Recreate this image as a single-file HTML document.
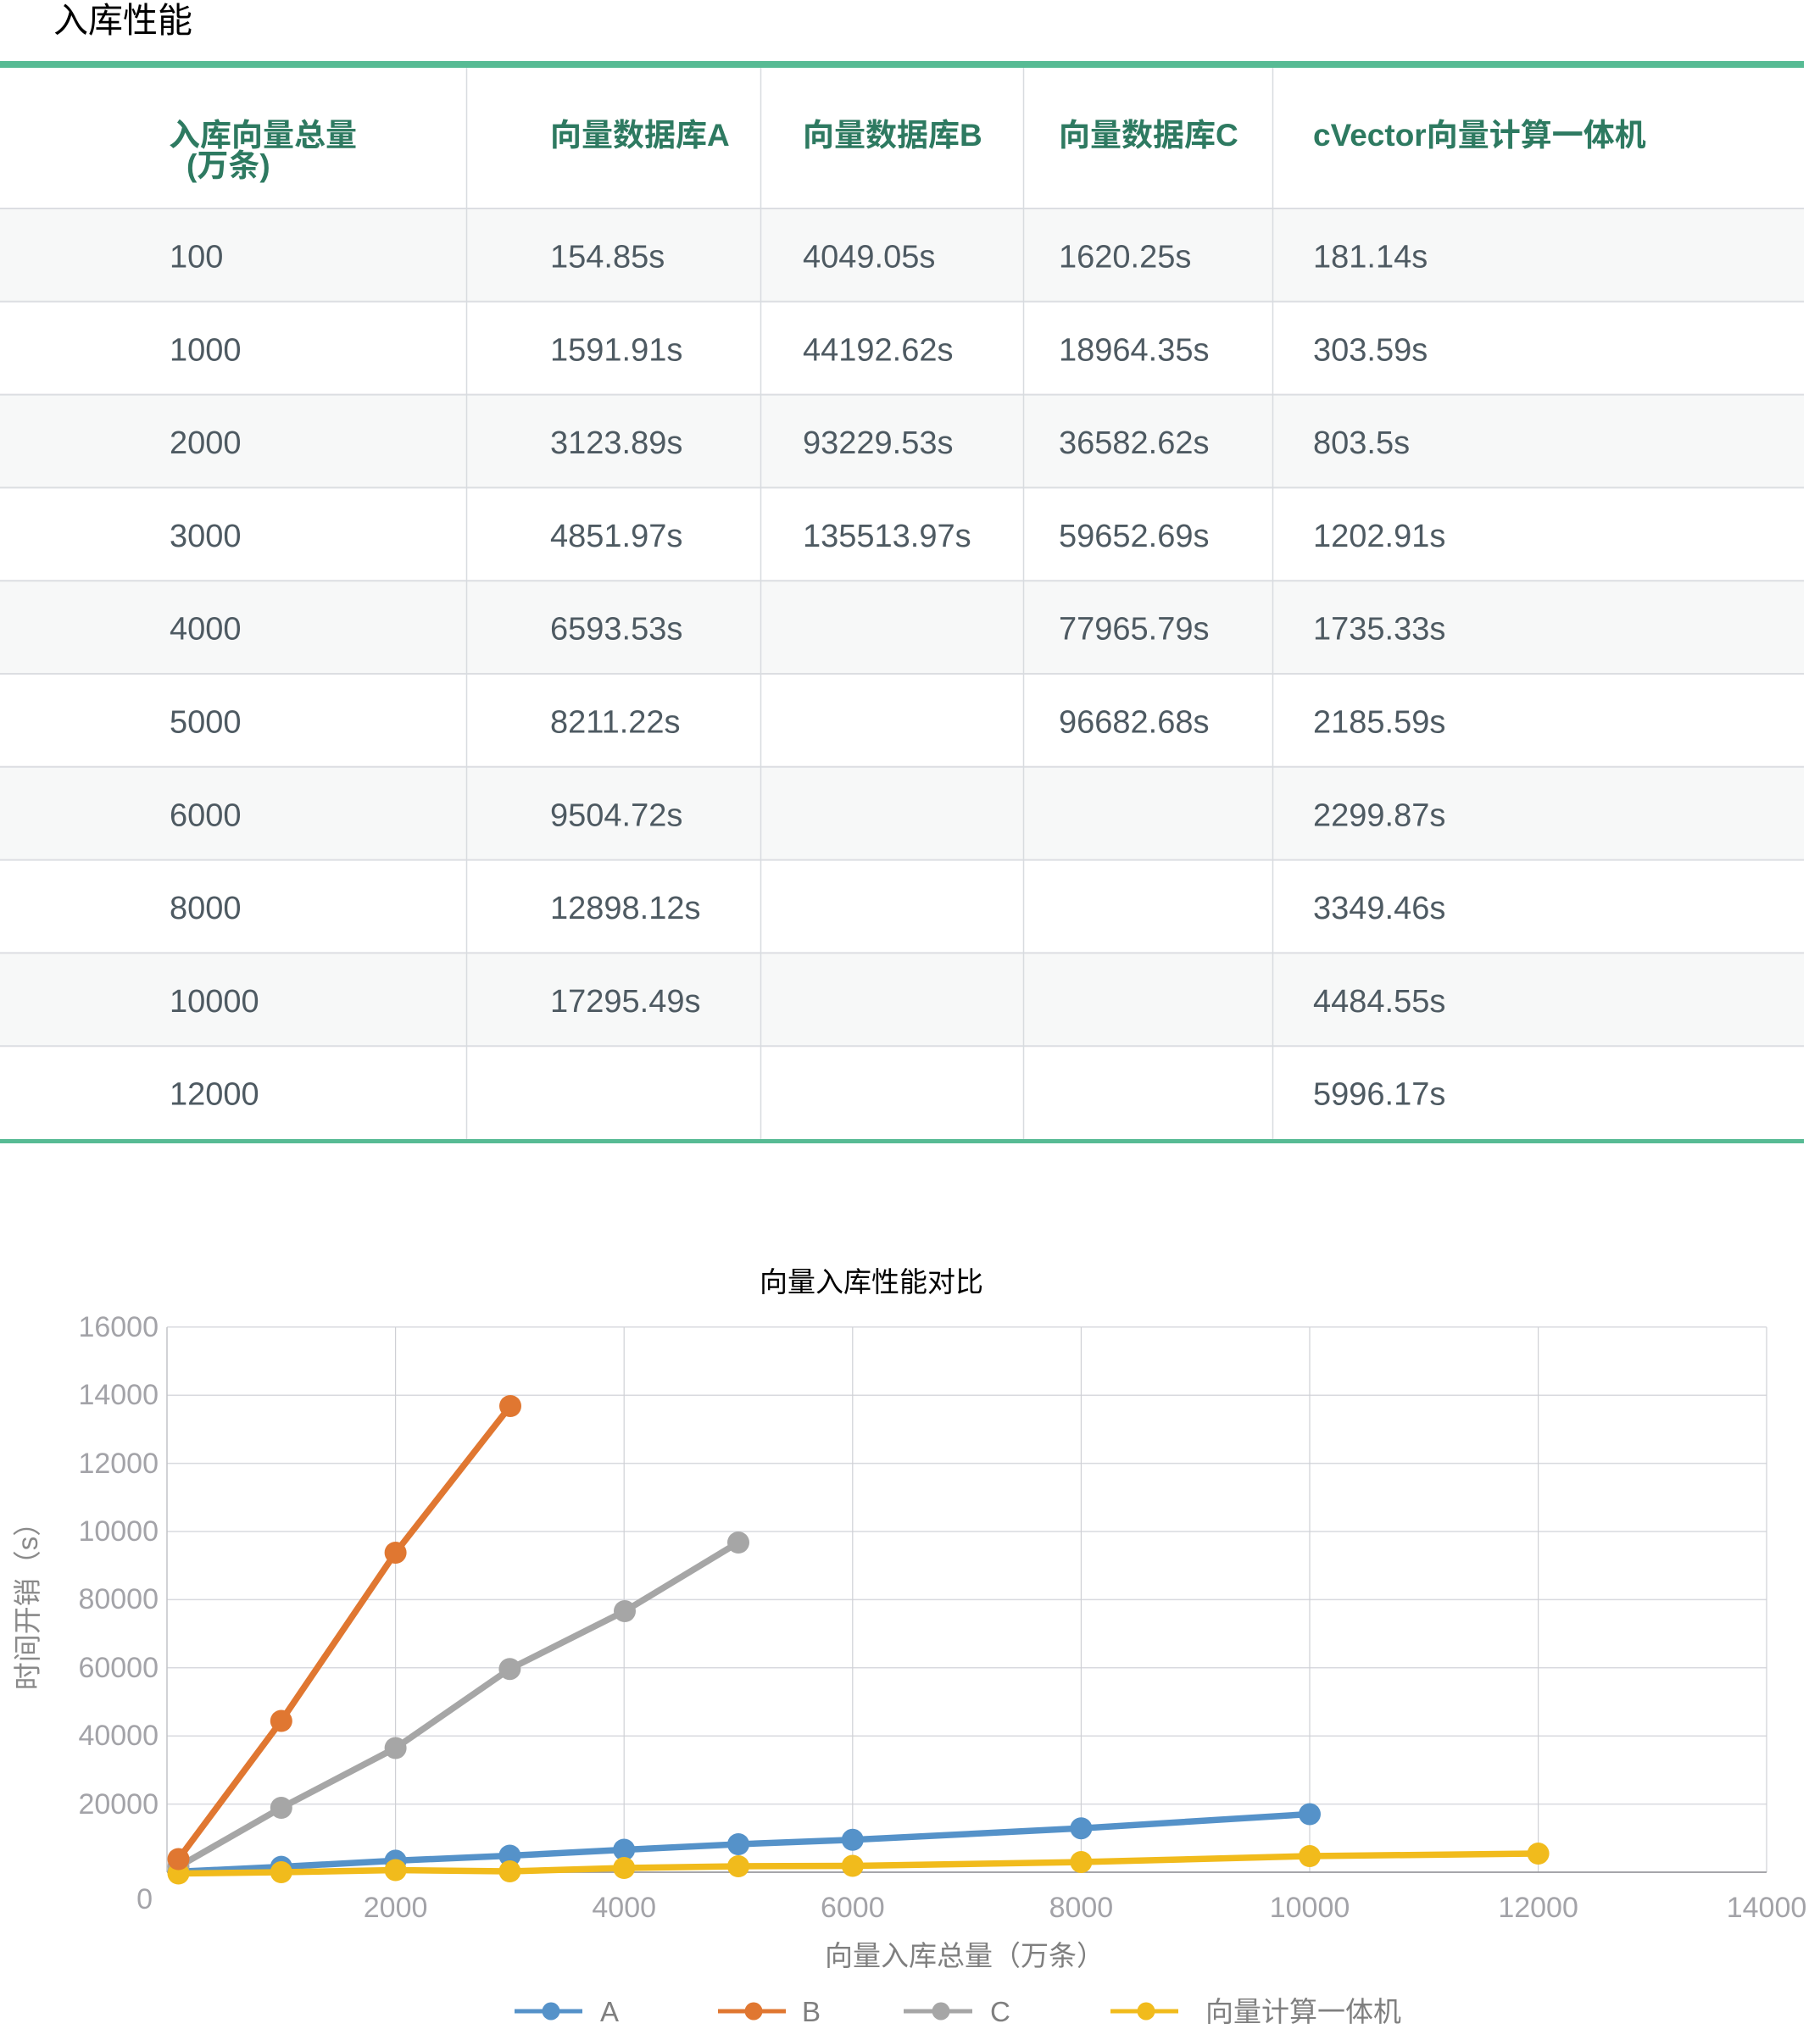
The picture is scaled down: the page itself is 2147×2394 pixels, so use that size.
<!DOCTYPE html>
<html>
<head>
<meta charset="utf-8">
<style>
html,body{margin:0;padding:0;background:#fff;}
svg{display:block;}
text{font-family:"Liberation Sans","Noto Sans CJK SC",sans-serif;}
</style>
</head>
<body>
<svg xmlns="http://www.w3.org/2000/svg" width="2147" height="2394" viewBox="0 0 2147 2394">
<rect x="0" y="0" width="2147" height="2394" fill="#ffffff"/>

<!-- Title -->
<text x="63" y="38" font-size="41" fill="#000">入库性能</text>

<!-- Table -->
<rect x="0" y="72" width="2128" height="8" fill="#57BB94"/>

<!-- row backgrounds -->
<rect x="0" y="246" width="2128" height="109.8" fill="#F7F8F8"/>
<rect x="0" y="465.6" width="2128" height="109.8" fill="#F7F8F8"/>
<rect x="0" y="685.2" width="2128" height="109.8" fill="#F7F8F8"/>
<rect x="0" y="904.8" width="2128" height="109.8" fill="#F7F8F8"/>
<rect x="0" y="1124.4" width="2128" height="109.8" fill="#F7F8F8"/>

<!-- row borders -->
<g stroke="#DCDEE2" stroke-width="2">
<line x1="0" y1="246" x2="2128" y2="246"/>
<line x1="0" y1="355.8" x2="2128" y2="355.8"/>
<line x1="0" y1="465.6" x2="2128" y2="465.6"/>
<line x1="0" y1="575.4" x2="2128" y2="575.4"/>
<line x1="0" y1="685.2" x2="2128" y2="685.2"/>
<line x1="0" y1="795" x2="2128" y2="795"/>
<line x1="0" y1="904.8" x2="2128" y2="904.8"/>
<line x1="0" y1="1014.6" x2="2128" y2="1014.6"/>
<line x1="0" y1="1124.4" x2="2128" y2="1124.4"/>
<line x1="0" y1="1234.2" x2="2128" y2="1234.2"/>
</g>

<!-- column dividers -->
<g stroke="#D8DBDF" stroke-width="1.5">
<line x1="550.5" y1="80" x2="550.5" y2="1344"/>
<line x1="897.5" y1="80" x2="897.5" y2="1344"/>
<line x1="1207.5" y1="80" x2="1207.5" y2="1344"/>
<line x1="1501.5" y1="80" x2="1501.5" y2="1344"/>
</g>

<rect x="0" y="1344" width="2128" height="5" fill="#57BB94"/>

<!-- header -->
<g font-size="37" font-weight="700" fill="#2E7A61">
<text x="199" y="172">入库向量总量</text>
<text x="220" y="208">(万条)</text>
<text x="649" y="172">向量数据库A</text>
<text x="947" y="172">向量数据库B</text>
<text x="1249" y="172">向量数据库C</text>
<text x="1549" y="172">cVector向量计算一体机</text>
</g>

<!-- body text -->
<g font-size="38" fill="#4E5A62">
<text x="200" y="315.5">100</text>
<text x="649" y="315.5">154.85s</text>
<text x="947" y="315.5">4049.05s</text>
<text x="1249" y="315.5">1620.25s</text>
<text x="1549" y="315.5">181.14s</text>

<text x="200" y="425.3">1000</text>
<text x="649" y="425.3">1591.91s</text>
<text x="947" y="425.3">44192.62s</text>
<text x="1249" y="425.3">18964.35s</text>
<text x="1549" y="425.3">303.59s</text>

<text x="200" y="535.1">2000</text>
<text x="649" y="535.1">3123.89s</text>
<text x="947" y="535.1">93229.53s</text>
<text x="1249" y="535.1">36582.62s</text>
<text x="1549" y="535.1">803.5s</text>

<text x="200" y="644.9">3000</text>
<text x="649" y="644.9">4851.97s</text>
<text x="947" y="644.9">135513.97s</text>
<text x="1249" y="644.9">59652.69s</text>
<text x="1549" y="644.9">1202.91s</text>

<text x="200" y="754.7">4000</text>
<text x="649" y="754.7">6593.53s</text>
<text x="1249" y="754.7">77965.79s</text>
<text x="1549" y="754.7">1735.33s</text>

<text x="200" y="864.5">5000</text>
<text x="649" y="864.5">8211.22s</text>
<text x="1249" y="864.5">96682.68s</text>
<text x="1549" y="864.5">2185.59s</text>

<text x="200" y="974.3">6000</text>
<text x="649" y="974.3">9504.72s</text>
<text x="1549" y="974.3">2299.87s</text>

<text x="200" y="1084.1">8000</text>
<text x="649" y="1084.1">12898.12s</text>
<text x="1549" y="1084.1">3349.46s</text>

<text x="200" y="1193.9">10000</text>
<text x="649" y="1193.9">17295.49s</text>
<text x="1549" y="1193.9">4484.55s</text>

<text x="200" y="1303.7">12000</text>
<text x="1549" y="1303.7">5996.17s</text>
</g>

<!-- Chart -->
<text x="1028" y="1524" font-size="33" fill="#000" text-anchor="middle">向量入库性能对比</text>

<!-- horizontal gridlines -->
<g stroke="#D9DADF" stroke-width="1.5">
<line x1="197" y1="2128.6" x2="2084" y2="2128.6"/>
<line x1="197" y1="2048.2" x2="2084" y2="2048.2"/>
<line x1="197" y1="1967.8" x2="2084" y2="1967.8"/>
<line x1="197" y1="1887.4" x2="2084" y2="1887.4"/>
<line x1="197" y1="1807" x2="2084" y2="1807"/>
<line x1="197" y1="1726.6" x2="2084" y2="1726.6"/>
<line x1="197" y1="1646.2" x2="2084" y2="1646.2"/>
<line x1="197" y1="1565.8" x2="2084" y2="1565.8"/>
</g>
<!-- vertical gridlines -->
<g stroke="#CFD0D5" stroke-width="1.2">
<line x1="466.6" y1="1566" x2="466.6" y2="2209"/>
<line x1="736.2" y1="1566" x2="736.2" y2="2209"/>
<line x1="1005.8" y1="1566" x2="1005.8" y2="2209"/>
<line x1="1275.4" y1="1566" x2="1275.4" y2="2209"/>
<line x1="1545" y1="1566" x2="1545" y2="2209"/>
<line x1="1814.6" y1="1566" x2="1814.6" y2="2209"/>
<line x1="2084" y1="1566" x2="2084" y2="2209"/>
</g>
<line x1="197" y1="1566" x2="197" y2="2209" stroke="#C2C3C7" stroke-width="1.5"/>
<line x1="197" y1="2209" x2="2084" y2="2209" stroke="#9A9A9E" stroke-width="1.8"/>

<!-- y labels -->
<g font-size="34" fill="#A3A3A8" text-anchor="end">
<text x="187" y="1577">16000</text>
<text x="187" y="1657">14000</text>
<text x="187" y="1738">12000</text>
<text x="187" y="1818">10000</text>
<text x="187" y="1898">80000</text>
<text x="187" y="1979">60000</text>
<text x="187" y="2059">40000</text>
<text x="187" y="2140">20000</text>
<text x="180" y="2252">0</text>
</g>
<!-- x labels -->
<g font-size="34" fill="#A3A3A8" text-anchor="middle">
<text x="466.6" y="2262">2000</text>
<text x="736.2" y="2262">4000</text>
<text x="1005.8" y="2262">6000</text>
<text x="1275.4" y="2262">8000</text>
<text x="1545" y="2262">10000</text>
<text x="1814.6" y="2262">12000</text>
<text x="2084" y="2262">14000</text>
</g>

<!-- axis titles -->
<text x="973" y="2319" font-size="33" fill="#7F7F7F">向量入库总量（万条）</text>
<text transform="translate(44,1887) rotate(-90)" font-size="33" fill="#8A8A8A" text-anchor="middle">时间开销（s）</text>

<!-- series A -->
<g>
<polyline fill="none" stroke="#5592C9" stroke-width="7.5" stroke-linejoin="round" points="210.5,2208.4 331.8,2202.6 466.6,2195.4 601.4,2189.5 736.2,2182.5 871,2176 1005.8,2170.8 1275.4,2157.2 1545,2140.5"/>
<g fill="#5592C9">
<circle cx="210.5" cy="2208.4" r="13"/>
<circle cx="331.8" cy="2202.6" r="13"/>
<circle cx="466.6" cy="2195.4" r="13"/>
<circle cx="601.4" cy="2189.5" r="13"/>
<circle cx="736.2" cy="2182.5" r="13"/>
<circle cx="871" cy="2176" r="13"/>
<circle cx="1005.8" cy="2170.8" r="13"/>
<circle cx="1275.4" cy="2157.2" r="13"/>
<circle cx="1545" cy="2140.5" r="13"/>
</g>
</g>

<!-- series C -->
<g>
<polyline fill="none" stroke="#A6A6A6" stroke-width="7.5" stroke-linejoin="round" points="210.5,2202.5 331.8,2133 466.6,2062.5 601.4,1969.2 737,1901 871,1820"/>
<g fill="#A6A6A6">
<circle cx="210.5" cy="2202.5" r="13"/>
<circle cx="331.8" cy="2133" r="13"/>
<circle cx="466.6" cy="2062.5" r="13"/>
<circle cx="601.4" cy="1969.2" r="13"/>
<circle cx="737" cy="1901" r="13"/>
<circle cx="871" cy="1820" r="13"/>
</g>
</g>

<!-- series cVector (yellow) -->
<g>
<polyline fill="none" stroke="#F1BB1C" stroke-width="7.5" stroke-linejoin="round" points="210.5,2210.5 331.8,2209 466.6,2206.5 601.4,2208 736.2,2204 871,2202 1005.8,2201.5 1275.4,2197 1545,2190 1814.6,2187"/>
<g fill="#F1BB1C">
<circle cx="210.5" cy="2210.5" r="13"/>
<circle cx="331.8" cy="2209" r="13"/>
<circle cx="466.6" cy="2206.5" r="13"/>
<circle cx="601.4" cy="2208" r="13"/>
<circle cx="736.2" cy="2204" r="13"/>
<circle cx="871" cy="2202" r="13"/>
<circle cx="1005.8" cy="2201.5" r="13"/>
<circle cx="1275.4" cy="2197" r="13"/>
<circle cx="1545" cy="2190" r="13"/>
<circle cx="1814.6" cy="2187" r="13"/>
</g>
</g>

<!-- series B -->
<g>
<polyline fill="none" stroke="#E07731" stroke-width="7.5" stroke-linejoin="round" points="210.5,2193.5 331.8,2030.5 466.6,1832 602,1659"/>
<g fill="#E07731">
<circle cx="210.5" cy="2193.5" r="13"/>
<circle cx="331.8" cy="2030.5" r="13"/>
<circle cx="466.6" cy="1832" r="13"/>
<circle cx="602" cy="1659" r="13"/>
</g>
</g>

<!-- legend -->
<g stroke-width="5">
<line x1="607" y1="2373" x2="687" y2="2373" stroke="#5592C9"/>
<line x1="847" y1="2373" x2="927" y2="2373" stroke="#E07731"/>
<line x1="1066" y1="2373" x2="1147" y2="2373" stroke="#A6A6A6"/>
<line x1="1310" y1="2373" x2="1390" y2="2373" stroke="#F1BB1C"/>
</g>
<circle cx="650" cy="2373" r="10.5" fill="#5592C9"/>
<circle cx="889" cy="2373" r="10.5" fill="#E07731"/>
<circle cx="1110" cy="2373" r="10.5" fill="#A6A6A6"/>
<circle cx="1352" cy="2373" r="10.5" fill="#F1BB1C"/>
<g font-size="33" fill="#7F7F7F">
<text x="708" y="2385">A</text>
<text x="946" y="2385">B</text>
<text x="1168" y="2385">C</text>
<text x="1422" y="2385">向量计算一体机</text>
</g>
</svg>
</body>
</html>
